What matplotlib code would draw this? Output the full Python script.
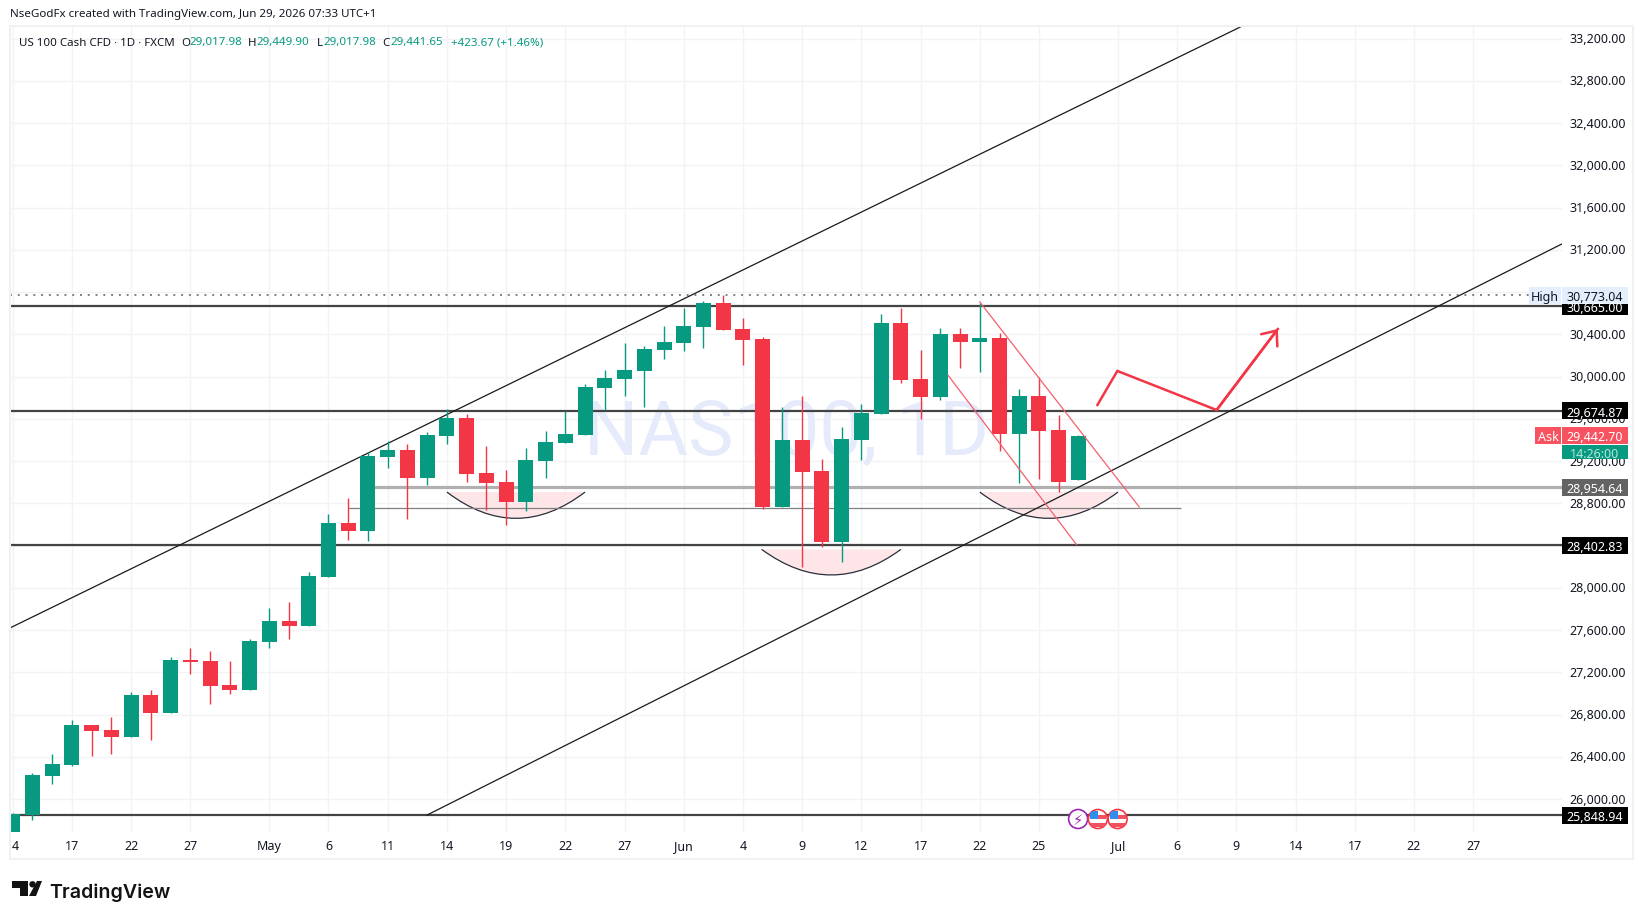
import matplotlib
matplotlib.use('Agg')
import matplotlib.pyplot as plt
from matplotlib.patches import Rectangle, Circle, PathPatch, Polygon
from matplotlib.path import Path
from matplotlib.transforms import blended_transform_factory, ScaledTranslation

plt.rcParams['font.family'] = ['Noto Sans', 'DejaVu Sans']

opens = [25600, 25849, 26218, 26322, 26701, 26654, 26587, 26985, 26815, 27317, 27307, 27080, 27032, 27487,
         27686, 27639, 28103, 28614, 28538, 29239, 29305, 29040, 29438, 29608, 29087, 29002, 28813, 29201,
         29372, 29447, 29892, 29978, 30053, 30252, 30319, 30470, 30697, 30451, 30357, 28765, 29400, 29106,
         28434, 29400, 29646, 30508, 29978, 29807, 30404, 30328, 30366, 29457, 29817, 29495, 29018]
highs = [25871, 26246, 26426, 26748, 26701, 26777, 27013, 27032, 27345, 27430, 27402, 27307, 27515, 27809,
         27866, 28150, 28699, 28851, 29286, 29391, 29362, 29476, 29694, 29646, 29343, 29116, 29324, 29485,
         29675, 29930, 30063, 30319, 30290, 30480, 30650, 30716, 30773, 30555, 30375, 29712, 29817, 29220,
         29523, 29741, 30593, 30650, 30252, 30461, 30461, 30700, 30413, 29883, 29997, 29637, 29450]
lows = [25550, 25801, 26142, 26313, 26407, 26426, 26587, 26559, 26815, 27184, 26900, 26994, 27032, 27430,
        27515, 27639, 28103, 28453, 28444, 29135, 28652, 28974, 29362, 29002, 28737, 28595, 28727, 29040,
        29372, 29447, 29684, 29817, 29712, 30167, 30243, 30271, 30442, 30110, 28746, 28765, 28198, 28387,
        28245, 29210, 29646, 29940, 29599, 29779, 30082, 30044, 29296, 28993, 29031, 28907, 29018]
closes = [25855, 26227, 26331, 26701, 26644, 26587, 26985, 26815, 27317, 27298, 27070, 27032, 27496, 27686,
          27639, 28112, 28614, 28538, 29249, 29305, 29040, 29447, 29608, 29078, 28993, 28813, 29210, 29381,
          29457, 29902, 29987, 30063, 30262, 30328, 30480, 30697, 30442, 30347, 28765, 29400, 29097, 28434,
          29409, 29656, 30508, 29968, 29807, 30404, 30328, 30366, 29457, 29817, 29485, 29002, 29442]

x_tick_pos = [0, 3, 6, 9, 13, 16, 19, 22, 25, 28, 31, 34, 37, 40, 43, 46, 49, 52, 56, 59, 62, 65, 68, 71, 74]
x_tick_labels = ['4', '17', '22', '27', 'May', '6', '11', '14', '19', '22', '27', 'Jun', '4', '9', '12', '17',
                 '22', '25', 'Jul', '6', '9', '14', '17', '22', '27']
y_ticks = list(range(26000, 33201, 400))

level_prices = [30665, 29674.87, 28402.83, 25848.94]
level_labels = ['30,665.00', '29,674.87', '28,402.83', '25,848.94']
gray_level = 28954.64
gray_start = 18
thin_level = 28753
thin_range = [17, 59.2]
high_price = 30773.04

channel_upper_x = [-0.14, 62.2]
channel_upper_y = [27620, 33311]
channel_lower_x = [21.0, 78.5]
channel_lower_y = [25849, 31257]
wedge_a_x = [49, 57.08]
wedge_a_y = [30707, 28766]
wedge_b_x = [47.4, 53.9]
wedge_b_y = [30011, 28410]
path_x = [54.96, 55.97, 61.0, 64.1]
path_y = [29732, 30054, 29684, 30451]

# left, right, chord price, lowest price
arcs = [(22, 29.0, 28907, 28658), (37.95, 45, 28364, 28122), (49, 56.0, 28907, 28658)]

UP = '#089981'
DOWN = '#f23645'
DARK = '#131722'

fig = plt.figure(figsize=(16.43, 9.2), dpi=100)
# plot area runs from x=10 to x=1562 and y=28 to y=833 px
ax = fig.add_axes([10 / 1643, 1 - 833 / 920, 1552 / 1643, 805 / 920])
ax.set_xlim(-0.137, 78.5)
ax.set_ylim(25688, 33311)
for s in ax.spines.values():
    s.set_visible(False)
ax.set_axisbelow(True)
ax.grid(True, color='#f2f3f5', lw=1)
ax.yaxis.tick_right()
ax.set_yticks(y_ticks)
ax.set_yticklabels([f'{v:,.2f}' for v in y_ticks], fontsize=9, color=DARK)
ax.set_xticks(x_tick_pos)
ax.set_xticklabels(x_tick_labels, fontsize=9, color=DARK)
ax.tick_params(axis='both', length=0)
ax.tick_params(axis='y', pad=5.5)
ax.tick_params(axis='x', pad=5)
up_px = ScaledTranslation(0, 1.5 / 100, fig.dpi_scale_trans)
for lab in ax.get_yticklabels():
    lab.set_transform(lab.get_transform() + up_px)
first = ax.get_xticklabels()[0]
first.set_transform(first.get_transform() + ScaledTranslation(2.3 / 100, 0, fig.dpi_scale_trans))

ax.text(39.2, 29460, 'NAS100, 1D', fontsize=55, color='#e6ebfc', ha='center', va='center',
        family='Roboto', zorder=0.6)

# arcs
for left, right, chord, low in arcs:
    ctrl = 2 * low - chord
    mid = (left + right) / 2
    fill = Path([(left, chord), (mid, ctrl), (right, chord), (left, chord)],
                [Path.MOVETO, Path.CURVE3, Path.CURVE3, Path.CLOSEPOLY])
    ax.add_patch(PathPatch(fill, fc='#fde5e8', ec='none', zorder=1))
    curve = Path([(left, chord), (mid, ctrl), (right, chord)], [Path.MOVETO, Path.CURVE3, Path.CURVE3])
    ax.add_patch(PathPatch(curve, fc='none', ec='#2a2e39', lw=0.9, zorder=1.2))

# levels
ax.hlines(level_prices, -0.137, 78.5, color='#434343', lw=1.6, zorder=1.5)
ax.hlines(gray_level, gray_start, 78.5, color='#b0b0b0', lw=2.3, zorder=1.5)
ax.hlines(thin_level, thin_range[0], thin_range[1], color='#808080', lw=0.9, zorder=1.5)
ax.hlines(high_price, -0.137, 78.5, color='#808080', lw=1.4, linestyles=(0, (1, 3)), zorder=1.5)

# channel
ax.plot(channel_upper_x, channel_upper_y, color='#1a1a1a', lw=0.9, zorder=1.6)
ax.plot(channel_lower_x, channel_lower_y, color='#1a1a1a', lw=0.9, zorder=1.6)

# candles
idx = list(range(len(opens)))
colors = [UP if c >= o else DOWN for o, c in zip(opens, closes)]
ax.vlines(idx, lows, highs, color=colors, lw=1.0, zorder=2)
ax.bar(idx, [abs(c - o) for o, c in zip(opens, closes)], bottom=[min(o, c) for o, c in zip(opens, closes)],
       width=0.76, color=colors, zorder=2.1)

# drawings on top
ax.plot(wedge_a_x, wedge_a_y, color='#f4606c', lw=0.9, zorder=3)
ax.plot(wedge_b_x, wedge_b_y, color='#f4606c', lw=0.9, zorder=3)
ax.plot(path_x, path_y, color=DOWN, lw=1.8, zorder=3, solid_joinstyle='miter')
ax.annotate('', xy=(path_x[-1], path_y[-1]), xytext=(path_x[-2], path_y[-2]),
            arrowprops=dict(arrowstyle='->,head_length=0.88,head_width=0.73', color=DOWN, lw=1.8,
                            shrinkA=0, shrinkB=0), zorder=3)

# price tags, blended: x in px from plot area, y in price
tr = blended_transform_factory(ax.transAxes, ax.transData)


def tag(price, text, fc, tc, x0=1562, x1=1628, h=17, fs=9, weight='medium'):
    a = (x0 - 10) / 1552
    b = (x1 - 10) / 1552
    dy = h * 9.4706
    ax.add_patch(Rectangle((a, price - dy / 2), b - a, dy, transform=tr, fc=fc, ec='none', clip_on=False, zorder=10))
    ax.text((a + b) / 2, price, text, transform=tr, color=tc, ha='center', va='center_baseline', fontsize=fs,
            clip_on=False, zorder=11, weight=weight)


for p, lab in zip(level_prices, level_labels):
    tag(p, lab, 'black', 'white')
tag(high_price, '30,773.04', '#e3effd', DARK, weight='normal')
tag(high_price, 'High', '#e3effd', DARK, x0=1529, x1=1561, weight='normal')
tag(gray_level, '28,954.64', '#636363', 'white')
tag(29442.70, '29,442.70', '#f7525f', 'white')
tag(29442.70, 'Ask', '#f7525f', 'white', x0=1535, x1=1561)
tag(29285, '14:26:00', UP, '#b5e6dc', h=14)

# overlay in pixel coordinates for the header, frame, icons and logo
ov = fig.add_axes([0, 0, 1, 1], zorder=20)
ov.set_xlim(0, 1643)
ov.set_ylim(920, 0)
ov.axis('off')
ov.patch.set_alpha(0)
ov.add_patch(Rectangle((10, 27), 1623, 833, fc='none', ec='#f0f1f3', lw=1.5))

ov.text(10, 15, 'NseGodFx created with TradingView.com, Jun 29, 2026 07:33 UTC+1', fontsize=8.3, color=DARK, va='center')
head_text = ['US 100 Cash CFD · 1D · FXCM', 'O', '29,017.98', 'H', '29,449.90', 'L', '29,017.98', 'C', '29,441.65',
             '+423.67 (+1.46%)']
head_x = [18.6, 181, 189, 248, 256, 317, 323, 382, 390, 451]
head_size = [8.3, 8.3, 8.3, 8.3, 8.3, 8.3, 8.3, 8.3, 8.3, 8.3]
for i, (t, xp, fs) in enumerate(zip(head_text, head_x, head_size)):
    col = DARK if i in (0, 1, 3, 5, 7) else UP
    ov.text(xp, 43, t, fontsize=fs, color=col, va='center')

# event icons
bar_px = [12.7 + 19.73 * i for i in (54, 55, 56)]
ov.add_patch(Circle((bar_px[0], 820), 9.5, fc='white', ec='#9c27b0', lw=1.2))
ov.text(bar_px[0], 820, '\u26a1', color='#9c27b0', fontsize=10.5, ha='center', va='center', family='DejaVu Sans')
for xp in bar_px[1:]:
    ring = Circle((xp, 820), 9.5, fc='white', ec=DOWN, lw=1.2)
    ov.add_patch(ring)
    for top, col in [(816, '#f0525f'), (824, '#f0525f')]:
        stripe = Rectangle((xp - 8, top), 16, 3.5, fc=col, ec='none')
        ov.add_patch(stripe)
        stripe.set_clip_path(ring)
    canton = Rectangle((xp - 8, 812), 8, 8, fc='#2f8ff0', ec='none')
    ov.add_patch(canton)
    canton.set_clip_path(ring)

# logo
ov.add_patch(Polygon([(12, 882), (27.5, 882), (27.5, 897), (20, 897), (20, 889), (12, 889)], fc='#131313', ec='none'))
ov.add_patch(Circle((32.5, 885.3), 3.2, fc='#131313', ec='none'))
ov.add_patch(Polygon([(37, 882), (42, 882), (36, 897), (29, 897)], fc='#131313', ec='none'))
ov.text(49, 898, 'TradingView', fontsize=14.1, color='#131313', family='Inter', weight='semibold', va='baseline')

fig.savefig('out.png', dpi=100)
